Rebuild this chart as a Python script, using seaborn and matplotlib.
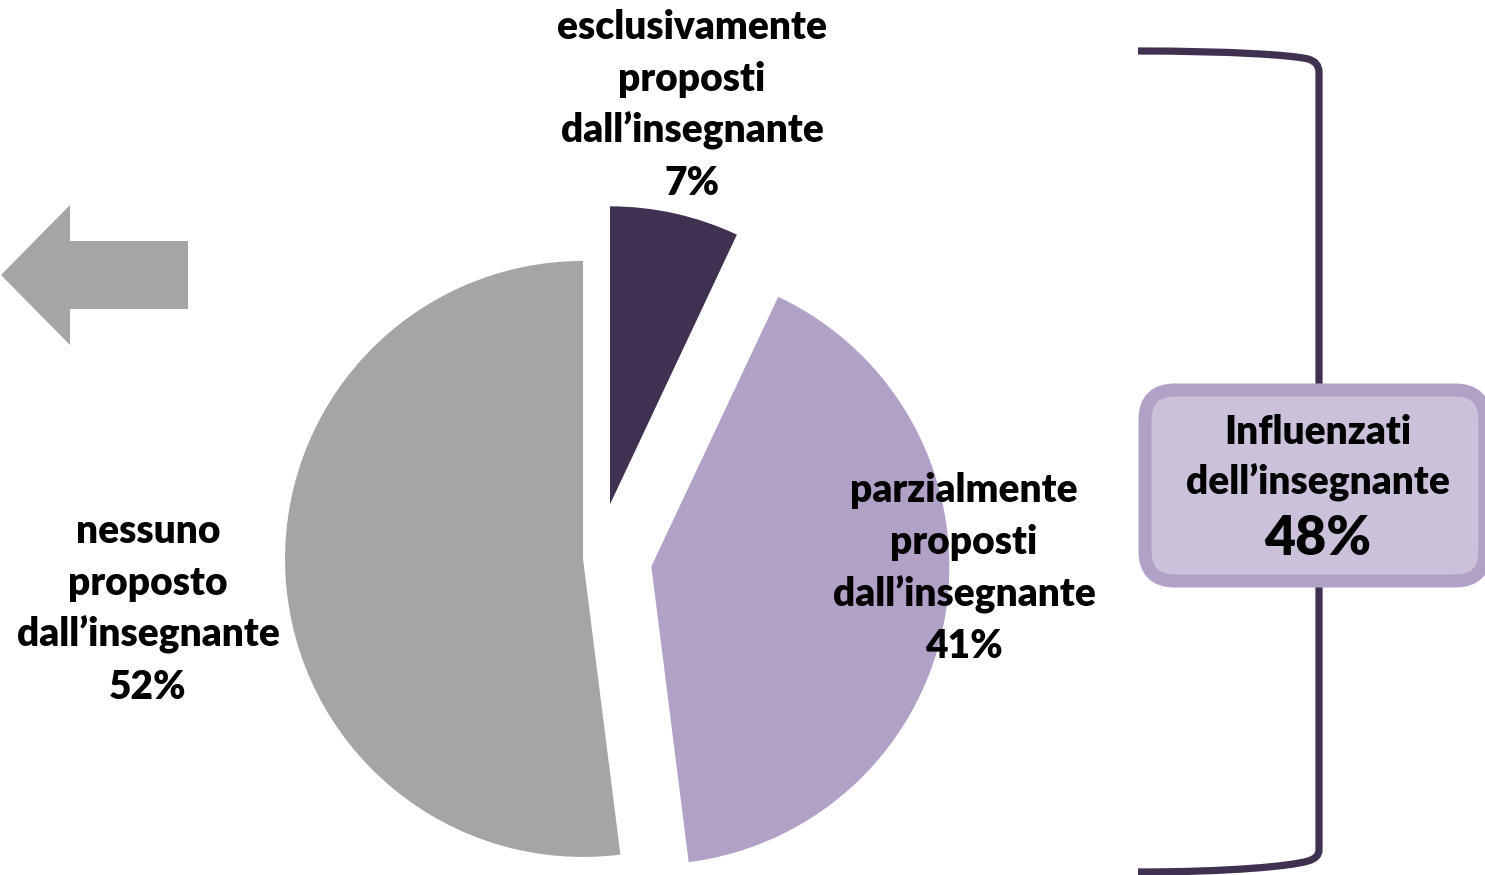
import matplotlib
matplotlib.use("Agg")
import matplotlib.pyplot as plt
import seaborn as sns
from matplotlib.patches import FancyBboxPatch, Polygon, PathPatch
from matplotlib.path import Path

# ---- data ----
categories = ["esclusivamente proposti dall’insegnante",
              "parzialmente proposti dall’insegnante",
              "nessuno proposto dall’insegnante"]
label_lines = [["esclusivamente", "proposti", "dall’insegnante"],
               ["parzialmente", "proposti", "dall’insegnante"],
               ["nessuno", "proposto", "dall’insegnante"]]
values = [7, 41, 52]
slice_colors = ["#403151", "#B2A1C7", "#A5A5A5"]
summary_title = ["Influenzati", "dell’insegnante"]
influenced = values[0] + values[1]

sns.set_theme(style="white")
plt.rcParams["font.family"] = ["Lato", "DejaVu Sans"]

W, H = 1485, 875
fig = plt.figure(figsize=(W / 100, H / 100), dpi=100)
ax = fig.add_axes([0, 0, 1, 1])


def Y(py):
    return H - py


FS = 28
FW = "heavy"

explode = [55, 54, 15]
ax.pie(values, colors=slice_colors, explode=explode, startangle=90,
       counterclock=False, center=(598, Y(558)), radius=298,
       wedgeprops=dict(linewidth=0, antialiased=True))
ax.set_xlim(0, W)
ax.set_ylim(0, H)
ax.set_aspect("equal")
ax.axis("off")

# ---- slice labels ----
anchors = [(692, 39), (964, 502), (148, 543)]
step = 52
for (x, y0), lines, v in zip(anchors, label_lines, values):
    for i, t in enumerate(lines + [f"{v}%"]):
        ax.text(x, Y(y0 + i * step), t, ha="center", va="baseline",
                fontsize=FS, fontweight=FW, color="black", zorder=5)

# ---- bracket ----
pts = [(1138, 51), (1230, 51), (1292, 55), (1308, 59),
       (1319, 62), (1319, 72),
       (1319, 850),
       (1319, 858), (1308, 861),
       (1292, 866), (1230, 872), (1138, 872)]
codes = [Path.MOVETO, Path.CURVE4, Path.CURVE4, Path.CURVE4,
         Path.CURVE3, Path.CURVE3,
         Path.LINETO,
         Path.CURVE3, Path.CURVE3,
         Path.CURVE4, Path.CURVE4, Path.CURVE4]
path = Path([(x, Y(y)) for x, y in pts], codes)
ax.add_patch(PathPatch(path, fill=False, edgecolor="#403151", lw=5.2,
                       capstyle="butt", joinstyle="round", zorder=2))

# ---- summary box ----
box = FancyBboxPatch((1145, Y(581)), 340, 191,
                     boxstyle="round,pad=0,rounding_size=30",
                     facecolor="#CCC1DA", edgecolor="#B2A1C7",
                     linewidth=9.4, zorder=3, clip_on=False)
ax.add_patch(box)
ax.text(1318, Y(444), summary_title[0], ha="center", va="baseline",
        fontsize=FS, fontweight=FW, color="black", zorder=5)
ax.text(1318, Y(495), summary_title[1], ha="center", va="baseline",
        fontsize=FS, fontweight=FW, color="black", zorder=5)
ax.text(1318, Y(555), f"{influenced}%", ha="center", va="baseline",
        fontsize=FS * 1.38, fontweight=FW, color="black", zorder=5)

# ---- left arrow ----
arrow = [(1, 275), (70, 205), (70, 241), (188, 241), (188, 309),
         (70, 309), (70, 345)]
ax.add_patch(Polygon([(x, Y(y)) for x, y in arrow], closed=True,
                     facecolor="#A5A5A5", edgecolor="none", zorder=2))

fig.savefig("out.png", dpi=100)
